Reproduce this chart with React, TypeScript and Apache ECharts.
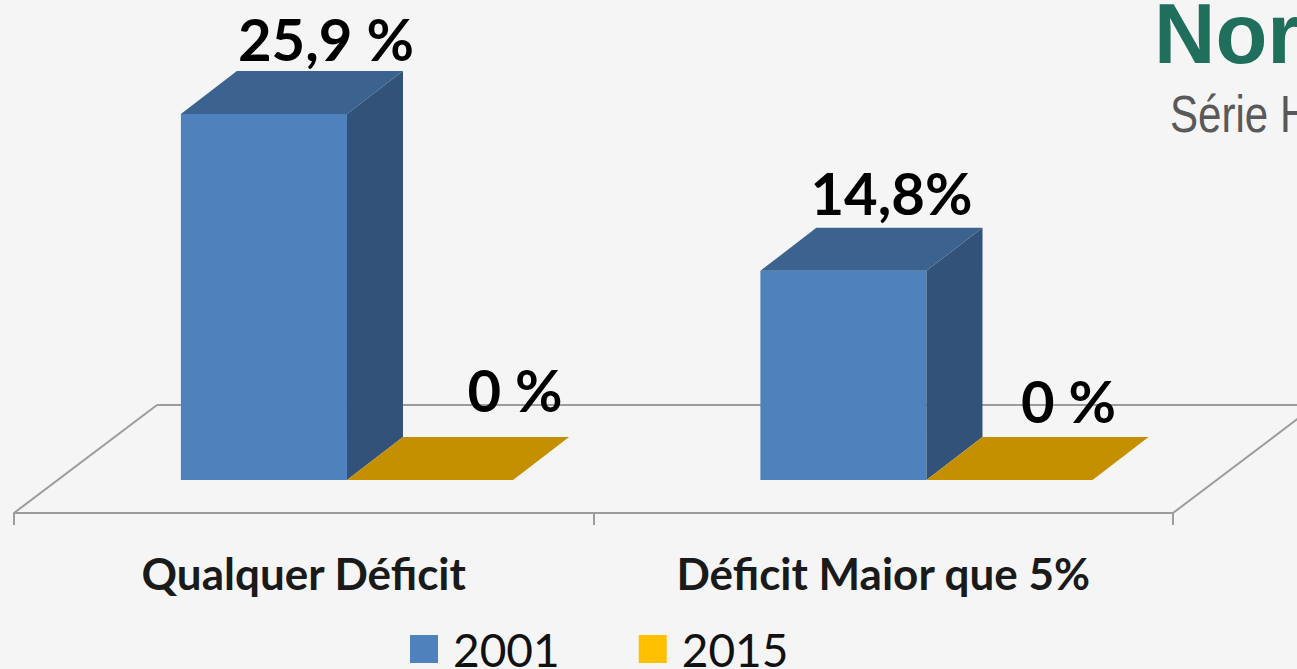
import React, { useEffect, useRef } from "react";
import * as echarts from "echarts";

const categories = ["Qualquer Déficit", "Déficit Maior que 5%"];
const seriesNames = ["2001", "2015"];
const values2001 = [25.9, 14.8];
const values2015 = [0, 0];
const labels2001 = ["25,9 %", "14,8%"];
const labels2015 = ["0 %", "0 %"];
const titleText = "Nor";
const subtitleText = "Série H";

const FONT = "Lato, Carlito, sans-serif";
const DEPTH_X = 56;
const DEPTH_Y = -43;
const BAR_RATIO = 0.2866;
const BAR_SHIFT = 0.0746;
const LABEL_OFFSETS = [
  [[62, -46], [48, -49]],
  [[85, -62], [59, -51]],
];
const PALETTE = [
  { front: "#4f81bd", side: "#335279", top: "#3c628f", legend: "#4f81bd" },
  { front: "#c49000", side: "#c49000", top: "#c49000", legend: "#ffc000" },
];

function barRenderer(seriesIndex: number, labels: string[]) {
  return (params: any, api: any) => {
    const cat = api.value(0);
    const val = api.value(1);
    const band = api.size([1, 0])[0];
    const w = band * BAR_RATIO;
    const top = api.coord([cat, val]);
    const base = api.coord([cat, 0]);
    const x0 = top[0] + band * BAR_SHIFT + (seriesIndex === 0 ? -w : 0);
    const x1 = x0 + w;
    const c = PALETTE[seriesIndex];
    const children: any[] = [];
    if (base[1] - top[1] > 0) {
      children.push({
        type: "rect",
        shape: { x: x0, y: top[1], width: w, height: base[1] - top[1] },
        style: { fill: c.front },
      });
      children.push({
        type: "polygon",
        shape: {
          points: [
            [x1, top[1]],
            [x1 + DEPTH_X, top[1] + DEPTH_Y],
            [x1 + DEPTH_X, base[1] + DEPTH_Y],
            [x1, base[1]],
          ],
        },
        style: { fill: c.side },
      });
    }
    children.push({
      type: "polygon",
      shape: {
        points: [
          [x0, top[1]],
          [x1, top[1]],
          [x1 + DEPTH_X, top[1] + DEPTH_Y],
          [x0 + DEPTH_X, top[1] + DEPTH_Y],
        ],
      },
      style: { fill: c.top },
    });
    const off = LABEL_OFFSETS[seriesIndex][params.dataIndex];
    children.push({
      type: "text",
      style: {
        x: (x0 + x1) / 2 + off[0],
        y: top[1] + off[1],
        text: labels[params.dataIndex],
        font: `bold 58px ${FONT}`,
        fill: "#000000",
        align: "center",
        verticalAlign: "bottom",
      },
    });
    return { type: "group", children };
  };
}

function floorRenderer(params: any) {
  const { x, y, width } = params.coordSys;
  const front = y + params.coordSys.height + 33;
  const dx = 143;
  const dy = -108;
  const style = { stroke: "#9c9c9c", lineWidth: 2, fill: "none" };
  return {
    type: "group",
    children: [
      { type: "line", shape: { x1: x, y1: front, x2: x + dx, y2: front + dy }, style },
      { type: "line", shape: { x1: x + dx, y1: front + dy, x2: x + width + dx, y2: front + dy }, style },
      { type: "line", shape: { x1: x + width, y1: front, x2: x + width + dx, y2: front + dy }, style },
    ],
  };
}

export default function App() {
  const ref = useRef<HTMLDivElement>(null);
  useEffect(() => {
    document.body.style.margin = "0";
    const chart = echarts.init(ref.current!, undefined, { renderer: "svg" });
    chart.setOption({
      animation: false,
      backgroundColor: "#f5f5f5",
      grid: { left: 14, width: 1159, top: 56, height: 424, containLabel: false },
      xAxis: {
        type: "category",
        data: categories,
        offset: 33,
        axisLine: { show: true, onZero: false, lineStyle: { color: "#9c9c9c", width: 2 } },
        axisTick: { show: true, length: 12, lineStyle: { color: "#9c9c9c", width: 2 } },
        axisLabel: {
          interval: 0,
          margin: 38,
          fontFamily: FONT,
          fontWeight: "bold",
          fontSize: 44,
          color: "#1a1a1a",
        },
      },
      yAxis: { type: "value", min: 0, max: 30, show: false },
      legend: {
        left: 410,
        top: 626,
        data: seriesNames.map((name, i) => ({
          name,
          icon: "rect",
          itemStyle: { color: PALETTE[i].legend },
        })),
        itemWidth: 28,
        itemHeight: 28,
        itemGap: 79,
        padding: 0,
        selectedMode: false,
        textStyle: {
          fontFamily: FONT,
          fontSize: 46,
          color: "#111111",
          padding: [0, 0, 4, 10],
        },
      },
      graphic: [
        {
          type: "text",
          x: 1154,
          y: -9,
          style: {
            text: titleText,
            font: 'bold 85px "Liberation Sans", Arial, sans-serif',
            fill: "#1f6f5c",
          },
        },
        {
          type: "text",
          x: 1170,
          y: 88,
          scaleX: 0.81,
          style: {
            text: subtitleText,
            font: '52px "Liberation Sans", Arial, sans-serif',
            fill: "#595959",
          },
        },
      ],
      series: [
        {
          name: "floor",
          type: "custom",
          silent: true,
          clip: false,
          data: [[0, 0]],
          renderItem: floorRenderer,
        },
        {
          name: seriesNames[0],
          type: "custom",
          clip: false,
          itemStyle: { color: PALETTE[0].legend },
          data: values2001.map((v, i) => [i, v]),
          renderItem: barRenderer(0, labels2001),
        },
        {
          name: seriesNames[1],
          type: "custom",
          clip: false,
          itemStyle: { color: PALETTE[1].legend },
          data: values2015.map((v, i) => [i, v]),
          renderItem: barRenderer(1, labels2015),
        },
      ],
    });
    return () => chart.dispose();
  }, []);
  return <div ref={ref} style={{ width: 1297, height: 669 }} />;
}
